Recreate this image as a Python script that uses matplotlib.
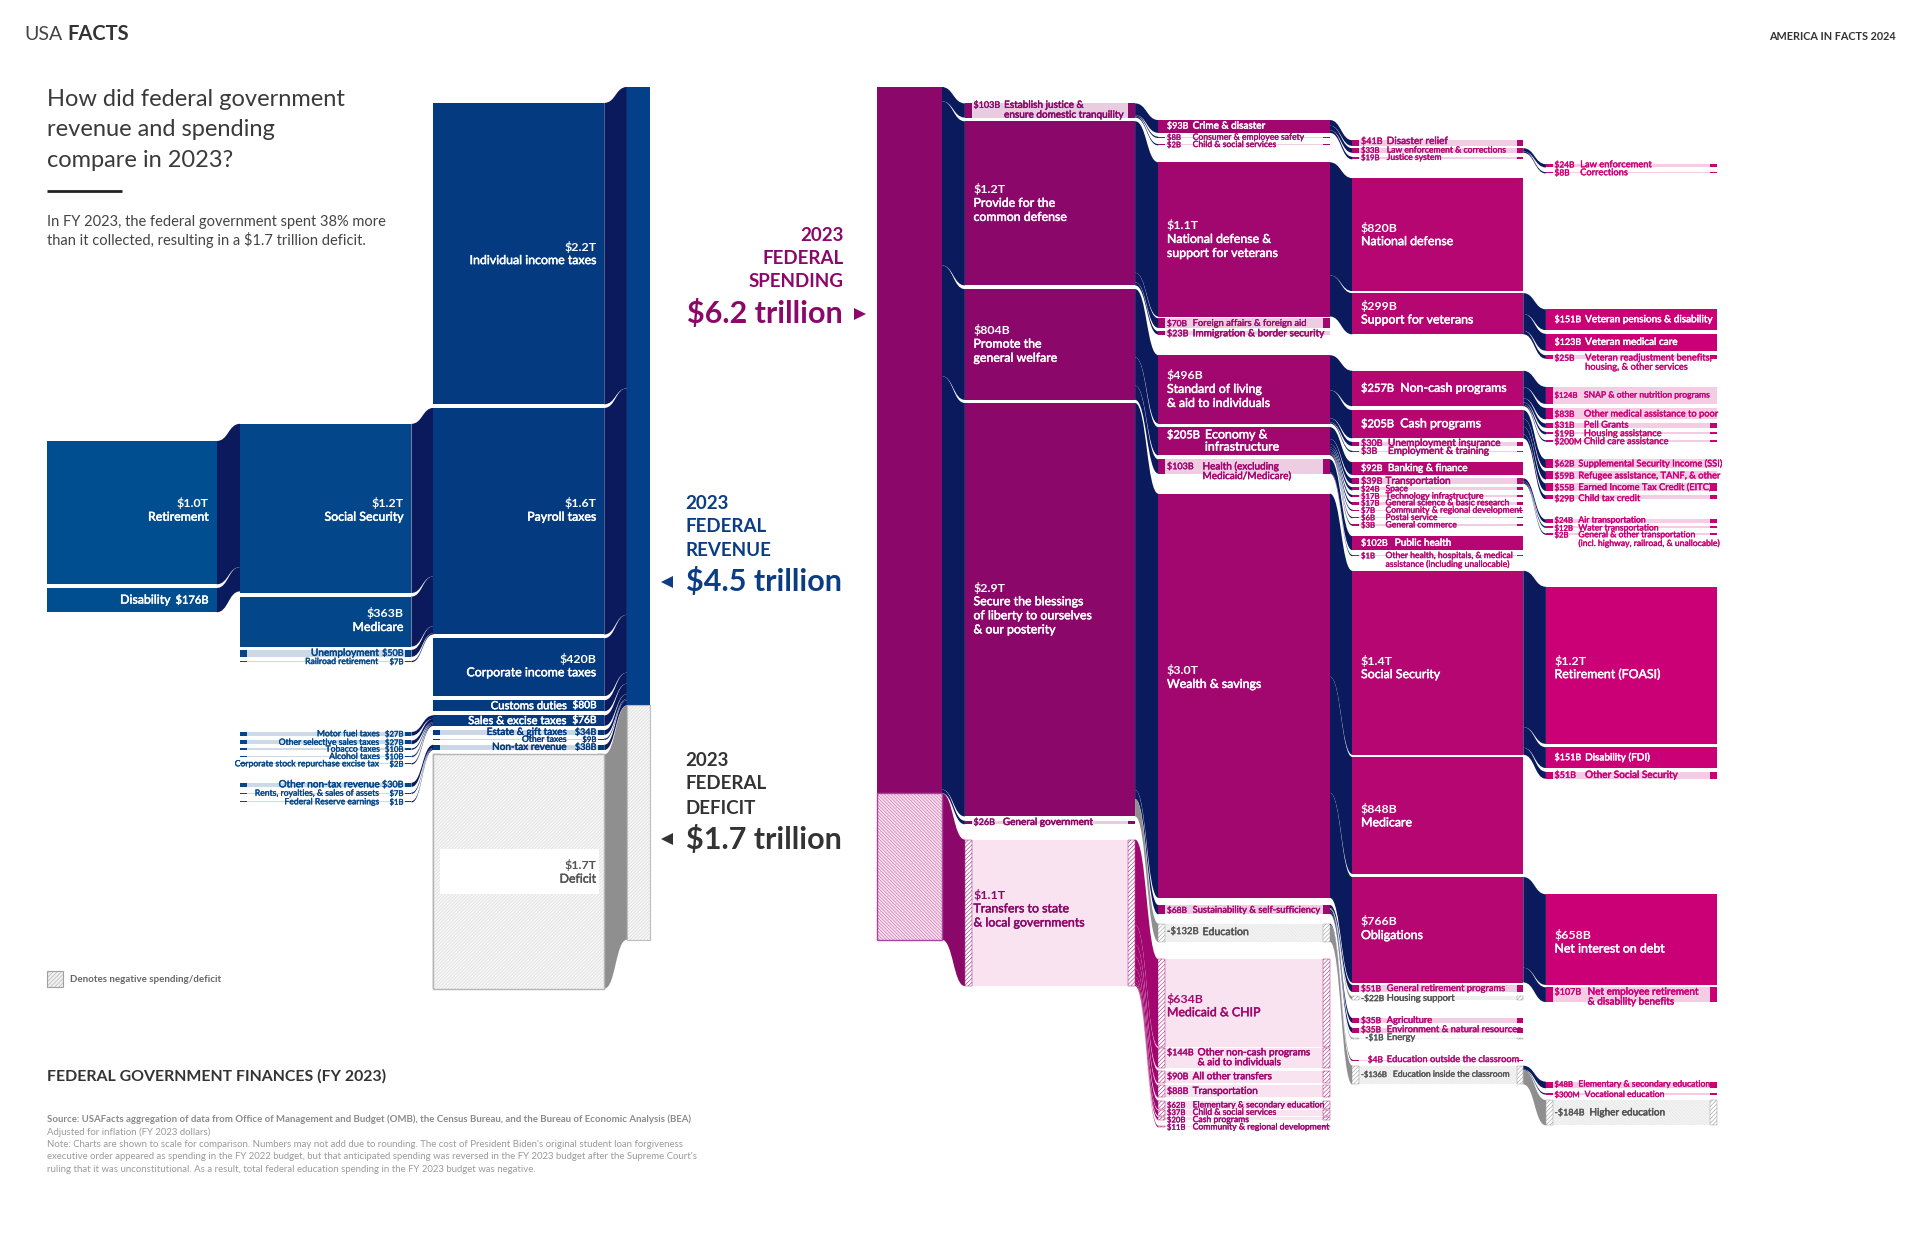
import matplotlib
matplotlib.use('Agg')
import matplotlib.pyplot as plt
from matplotlib.patches import Rectangle, PathPatch
from matplotlib.path import Path
import matplotlib.patheffects as pe

plt.rcParams['font.family'] = ['Lato', 'DejaVu Sans']
plt.rcParams['hatch.linewidth'] = 0.35

# ---- data: $ billions ------------------------------------------------------
rev0_names = ['Retirement', 'Disability']
rev0_labels = ['$1.0T', '$176B']
rev0_values = [1040, 176]

rev1_names = ['Social Security', 'Medicare', 'Unemployment', 'Railroad retirement',
              'Motor fuel taxes', 'Other selective sales taxes', 'Tobacco taxes', 'Alcohol taxes',
              'Corporate stock repurchase excise tax',
              'Other non-tax revenue', 'Rents, royalties, & sales of assets', 'Federal Reserve earnings']
rev1_labels = ['$1.2T', '$363B', '$50B', '$7B', '$27B', '$27B', '$10B', '$10B', '$2B', '$30B', '$7B', '$1B']
rev1_values = [1227, 363, 50, 7, 27, 27, 10, 10, 2, 30, 7, 1]

rev2_names = ['Individual income taxes', 'Payroll taxes', 'Corporate income taxes', 'Customs duties',
              'Sales & excise taxes', 'Estate & gift taxes', 'Other taxes', 'Non-tax revenue', 'Deficit']
rev2_labels = ['$2.2T', '$1.6T', '$420B', '$80B', '$76B', '$34B', '$9B', '$38B', '$1.7T']
rev2_values = [2187, 1644, 420, 80, 76, 34, 9, 38, 1700]

total_revenue = 4488
total_deficit = 1700
total_spending = 5124
total_negative = 1063

sp1_names = ['Establish justice &\nensure domestic tranquility', 'Provide for the\ncommon defense',
             'Promote the\ngeneral welfare',
             'Secure the blessings\nof liberty to ourselves\n& our posterity',
             'General government', 'Transfers to state\n& local governments']
sp1_labels = ['$103B', '$1.2T', '$804B', '$2.9T', '$26B', '$1.1T']
sp1_values = [103, 1191, 804, 3000, 26, 1063]

sp2_names = ['Crime & disaster', 'Consumer & employee safety', 'Child & social services',
             'National defense &\nsupport for veterans', 'Foreign affairs & foreign aid',
             'Immigration & border security', 'Standard of living\n& aid to individuals',
             'Economy &\ninfrastructure', 'Health (excluding\nMedicaid/Medicare)', 'Wealth & savings',
             'Sustainability & self-sufficiency', 'Education', 'Medicaid & CHIP',
             'Other non-cash programs\n& aid to individuals', 'All other transfers', 'Transportation',
             'Elementary & secondary education', 'Child & social services', 'Cash programs',
             'Community & regional development']
sp2_labels = ['$93B', '$8B', '$2B', '$1.1T', '$70B', '$23B', '$496B', '$205B', '$103B', '$3.0T',
              '$68B', '-$132B', '$634B', '$144B', '$90B', '$88B', '$62B', '$37B', '$20B', '$11B']
sp2_values = [93, 8, 2, 1119, 70, 23, 496, 205, 103, 2933, 68, -132, 634, 144, 90, 88, 62, 37, 20, 11]

sp3_names = ['Disaster relief', 'Law enforcement & corrections', 'Justice system', 'National defense',
             'Support for veterans', 'Non-cash programs', 'Cash programs', 'Unemployment insurance',
             'Employment & training', 'Banking & finance', 'Transportation', 'Space',
             'Technology infrastructure', 'General science & basic research',
             'Community & regional development', 'Postal service', 'General commerce', 'Public health',
             'Other health, hospitals, & medical\nassistance (including unallocable)', 'Social Security',
             'Medicare', 'Obligations', 'General retirement programs', 'Housing support', 'Agriculture',
             'Environment & natural resources', 'Energy', 'Education outside the classroom',
             'Education inside the classroom']
sp3_labels = ['$41B', '$33B', '$19B', '$820B', '$299B', '$257B', '$205B', '$30B', '$3B', '$92B', '$39B',
              '$24B', '$17B', '$17B', '$7B', '$6B', '$3B', '$102B', '$1B', '$1.4T', '$848B', '$766B',
              '$51B', '-$22B', '$35B', '$35B', '-$1B', '$4B', '-$136B']
sp3_values = [41, 33, 19, 820, 299, 257, 205, 30, 3, 92, 39, 24, 17, 17, 7, 6, 3, 102, 1, 1335, 848, 766,
              51, -22, 35, 35, -1, 4, -136]

sp4_names = ['Law enforcement', 'Corrections', 'Veteran pensions & disability', 'Veteran medical care',
             'Veteran readjustment benefits,\nhousing, & other services', 'SNAP & other nutrition programs',
             'Other medical assistance to poor', 'Pell Grants', 'Housing assistance', 'Child care assistance',
             'Supplemental Security Income (SSI)', 'Refugee assistance, TANF, & other',
             'Earned Income Tax Credit (EITC)', 'Child tax credit', 'Air transportation', 'Water transportation',
             'General & other transportation\n(incl. highway, railroad, & unallocable)',
             'Retirement (FOASI)', 'Disability (FDI)', 'Other Social Security', 'Net interest on debt',
             'Net employee retirement\n& disability benefits', 'Elementary & secondary education',
             'Vocational education', 'Higher education']
sp4_labels = ['$24B', '$8B', '$151B', '$123B', '$25B', '$124B', '$83B', '$31B', '$19B', '$200M', '$62B', '$59B',
              '$55B', '$29B', '$24B', '$12B', '$2B', '$1.2T', '$151B', '$51B', '$658B', '$107B', '$48B',
              '$300M', '-$184B']
sp4_values = [24, 8, 151, 123, 25, 124, 83, 31, 19, 0.2, 62, 59, 55, 29, 24, 12, 2, 1140, 151, 51, 658, 107, 48,
              0.3, -184]

# ---- layout (node tops, kinds, label styles), not data -----------------------
SCALE = 0.1125
NAVY = '#0A1A5C'
GRAY = '#8F8F8F'
SIZES = {'l': 8.9, 'n': 8.1, 'm': 7.6, 's': 7.2, 'y': 6.7, 'x': 6.2}
HATCH_A = '/' * 10
HATCH_B = '\\' * 10

rev0_tops = [360, 480]
rev0_kinds = 'ss'
rev0_dx = [0, 31]
rev0_sizes = 'll'

rev1_tops = [346, 487, 530.5, 539.5, 597.5, 604.5, 611, 617, 623, 639, 647, 654]
rev1_kinds = 'ssllllllllll'
rev1_dx = [0, 0, 20, 20, 19, 19, 19, 19, 19, 19, 19, 19]
rev1_sizes = 'llsxxxxxxsxx'

rev2_tops = [84, 333, 521, 571.6, 584, 596, 603, 608, 615.8]
rev2_kinds = 'ssssslll'
rev2_dx = [0, 0, 0, 24, 24, 24, 24, 24, 0]
rev2_sizes = 'lllnnsxsl'

sp1_tops = [84.4, 99, 236, 329, 670, 685.4]
sp1_kinds = 'lssslh'
sp1_dx = [25, 0, 0, 0, 24, 0]
sp1_sizes = 'slllsl'
sp1_ly = [90, None, 281, 497, None, 742]

sp2_tops = [98, 111.6, 117.6, 132.5, 259.8, 270.5, 290, 348.7, 375, 403, 738.8, 754, 783, 855.5, 874, 886, 898.5,
            906.5, 912, 919]
sp2_kinds = 'sllslLsslslnhhhhhhhh'
sp2_dx = [21, 21, 21, 0, 21, 21, 0, 31, 29, 0, 21, 29, 0, 25, 21, 21, 21, 21, 21, 21]
sp2_sizes = 'sxxlysllslymlsssxxxx'
sp2_ly = [103, 112, 118, None, 264, 272.5, None, 360, 385, 553, 743, 760.5, 821, 863.5, 879, 891, 902, 908, 914, 920]

sp3_tops = [114.5, 121, 128, 145.4, 239.3, 302.7, 334.8, 360.7, 368, 377.3, 390.5, 397.7, 404, 410, 416, 422, 428,
            437.7, 453, 466, 618, 716, 804, 813.5, 831, 839, 847, 865, 870]
sp3_kinds = 'lllssssllslllllllslsssl' + 'nllnln'
sp3_dx = [21, 21, 21, 0, 0, 32, 32, 22, 22, 22, 20, 20, 20, 20, 20, 20, 20, 27.5, 20, 0, 0, 0, 21, 21, 21, 21, 21, 21,
          26]
sp3_sizes = 'sxxllll' + 'ssss' + 'xxxxxx' + 'sx' + 'lll' + 'yyyyyy' + 'x'
sp3_ly = [115.5, 122.5, 128.5, None, 255.5, 317, 346, 362, 368.5, 382.5, 393, 399, 405, 410.5, 416.5, 422.5, 428.5,
          443.5, 457, 545, 666, 758, 807, 815, 833, 840.5, 847, 865, 877]
sp3_shift = {26: 3.5, 27: 5.5}

sp4_tops = [134, 140.5, 252.5, 272.5, 290, 315.8, 333, 345.7, 352.5, 359.4, 375, 384.8, 394.6, 404.3, 424, 429.6, 435.5,
            479, 610, 630, 730, 806, 883, 892.5, 898]
sp4_kinds = 'llssl' + 'LLlll' + 'LLlll' + 'll' + 'ssl' + 'sl' + 'lln'
sp4_dx = [21, 21, 25, 25, 25, 24, 24, 24, 24, 24, 19.5, 19.5, 19.5, 19.5, 19.5, 19.5, 19.5, 0, 25, 25, 0, 27, 19.5, 24.6, 28.5]
sp4_sizes = 'yy' + 'ssy' + 'xyyyy' + 'yyyy' + 'xxx' + 'l' + 'ss' + 'l' + 's' + 'xx' + 's'
sp4_ly = [134.5, 141, 261, 279.5, 296, 322.5, 338, 347, 354, 360.5, 378.5, 388.5, 398, 407, 424.5, 431, 440, 545,
          618.5, 633, 769, 814, 885, 893.5, 908.5]


def mix(hex_color, t):
    # blend a colour toward white
    rgb = [int(hex_color[i:i + 2], 16) for i in (1, 3, 5)]
    return '#%02X%02X%02X' % tuple(int(c + (255 - c) * t) for c in rgb)


fig = plt.figure(figsize=(19.2, 12.47), dpi=100, facecolor='white')
ax = fig.add_axes([0, 0, 1, 1])
ax.set_xlim(0, 1568)
ax.set_ylim(1018, 0)
ax.axis('off')


def ribbon(x0, y0, h0, x1, y1, h1, color):
    d = (x1 - x0) * 0.5
    verts = [(x0, y0), (x0 + d, y0), (x1 - d, y1), (x1, y1), (x1, y1 + h1),
             (x1 - d, y1 + h1), (x0 + d, y0 + h0), (x0, y0 + h0), (x0, y0)]
    codes = [Path.MOVETO, Path.CURVE4, Path.CURVE4, Path.CURVE4, Path.LINETO,
             Path.CURVE4, Path.CURVE4, Path.CURVE4, Path.CLOSEPOLY]
    ax.add_patch(PathPatch(Path(verts, codes), fc=color, ec='none', lw=0, zorder=1))


def flow(parent, kids, kids_left=False, color=None):
    # kids are stacked inside the parent edge, squeezed when min heights overflow it
    total = sum(k['h'] for k in kids)
    squeeze = min(1.0, parent['h'] / total)
    y = parent['top']
    for k in kids:
        h0 = k['h'] * squeeze
        c = color or (GRAY if k['value'] < 0 else NAVY)
        if kids_left:
            ribbon(k['x1'], k['top'], k['h'], parent['x0'], y, h0, c)
        else:
            ribbon(parent['x1'], y, h0, k['x0'], k['top'], k['h'], c)
        y += h0


def draw_node(n, color, cap=5.5):
    x0, x1, top, h, kind = n['x0'], n['x1'], n['top'], n['h'], n['kind']
    w = x1 - x0
    if kind == 's':
        ax.add_patch(Rectangle((x0, top), w, h, fc=color, ec='none', zorder=3))
    elif kind in 'lL':
        ax.add_patch(Rectangle((x0, top), w, h, fc=mix(color, 0.8), ec='none', zorder=3))
        ax.add_patch(Rectangle((x0, top), cap, h, fc=color, ec='none', zorder=3))
        if kind == 'l':
            ax.add_patch(Rectangle((x1 - cap, top), cap, h, fc=color, ec='none', zorder=3))
    else:
        light, line, edge = ('#F3F3F3', '#E2E2E2', GRAY) if kind == 'n' else ('#FAE6F2', '#F6DAEA', color)
        ax.add_patch(Rectangle((x0, top), w, h, fc=light, ec=line, hatch=HATCH_B, lw=0, zorder=3))
        for cx in (x0, x1 - cap):
            ax.add_patch(Rectangle((cx, top), cap, h, fc='white', ec=edge, hatch='////////', lw=0.3, zorder=3))


def put(x, y, s, tc, size, ha, heavy=False):
    t = ax.text(x, y, s, color=tc, fontsize=size, ha=ha, va='center', fontweight='bold' if heavy else 'normal', zorder=5)
    if not heavy:
        t.set_path_effects([pe.withStroke(linewidth=0.35 if size > 7 else 0.25, foreground=tc)])
    return t


def draw_label(n, x, right=False, shift=0):
    size = SIZES[n['size']]
    tc = n['tc']
    lines = n['name'].split('\n')
    ly = n['ly'] if n['ly'] is not None else n['top'] + n['h'] / 2
    ha = 'right' if right else 'left'
    if n['dx'] == 0:
        pitch = size * 1.29
        lines = [n['label']] + lines
        for i, line in enumerate(lines):
            put(x, ly + (i - (len(lines) - 1) / 2) * pitch, line, tc, size, ha, heavy=(i == 0))
    else:
        pitch = size * 1.12
        for i, line in enumerate(lines):
            y = ly + (i - (len(lines) - 1) / 2) * pitch
            nx = x - n['dx'] if right else x + n['dx']
            put(nx, y, line, tc, size, ha)
            if i == 0:
                # inline amounts: regular cut, slightly smaller so they clear the name
                put(x if right else x + shift, y, n['label'], tc, size * 0.9, ha)


def column(x0, x1, names, labels, values, tops, kinds, dx, sizes, color, ly=None):
    nodes = []
    for i, name in enumerate(names):
        n = dict(x0=x0, x1=x1, top=tops[i], h=max(abs(values[i]) * SCALE, 1.1), value=values[i], kind=kinds[i],
                 name=name, label=labels[i], dx=dx[i], size=sizes[i], ly=ly[i] if ly else None)
        n['tc'] = 'white' if n['kind'] == 's' else ('#555555' if n['kind'] == 'n' else color)
        nodes.append(n)
    return nodes


blue0, blue1, blue2, blue3 = '#004E8F', '#03478A', '#033A80', '#034089'
pur1, pur2, pur3, pur4 = '#8C076A', '#A1076F', '#B50672', '#CB0076'

rev0 = column(38, 177, rev0_names, rev0_labels, rev0_values, rev0_tops, rev0_kinds, rev0_dx, rev0_sizes, blue0)
rev1 = column(196, 336, rev1_names, rev1_labels, rev1_values, rev1_tops, rev1_kinds, rev1_dx, rev1_sizes, blue1)
rev2 = column(354, 493.5, rev2_names, rev2_labels, rev2_values, rev2_tops, rev2_kinds + 'n', rev2_dx, rev2_sizes, blue2)
rev_total = dict(x0=512, x1=531, top=71, h=total_revenue * SCALE, value=total_revenue, kind='s')
def_total = dict(x0=512, x1=531, top=71 + total_revenue * SCALE, h=total_deficit * SCALE, value=-total_deficit, kind='n')

sp_total = dict(x0=716, x1=769, top=71, h=total_spending * SCALE, value=total_spending, kind='s')
neg_total = dict(x0=716, x1=769, top=71 + total_spending * SCALE, h=total_negative * SCALE, value=total_negative, kind='h')
sp1 = column(788, 927, sp1_names, sp1_labels, sp1_values, sp1_tops, sp1_kinds, sp1_dx, sp1_sizes, pur1, sp1_ly)
sp2 = column(946, 1086, sp2_names, sp2_labels, sp2_values, sp2_tops, sp2_kinds, sp2_dx, sp2_sizes, pur2, sp2_ly)
sp3 = column(1104.5, 1244, sp3_names, sp3_labels, sp3_values, sp3_tops, sp3_kinds, sp3_dx, sp3_sizes, pur3, sp3_ly)
sp4 = column(1262.5, 1402, sp4_names, sp4_labels, sp4_values, sp4_tops, sp4_kinds, sp4_dx, sp4_sizes, pur4, sp4_ly)

# ribbons
flow(rev1[0], rev0, kids_left=True)
flow(rev2[1], rev1[:4], kids_left=True)
flow(rev2[4], rev1[4:9], kids_left=True)
flow(rev2[7], rev1[9:12], kids_left=True)
flow(rev_total, rev2[:8], kids_left=True)
flow(def_total, rev2[8:], kids_left=True, color=GRAY)

flow(sp_total, sp1[:5])
flow(neg_total, sp1[5:], color=pur1)
flow(sp1[0], sp2[:3])
flow(sp1[1], sp2[3:6])
flow(sp1[2], sp2[6:9])
flow(sp1[3], sp2[9:12])
flow(sp1[5], sp2[12:], color=pur2)
flow(sp2[0], sp3[:3])
flow(sp2[3], sp3[3:5])
flow(sp2[6], sp3[5:9])
flow(sp2[7], sp3[9:17])
flow(sp2[8], sp3[17:19])
flow(sp2[9], sp3[19:22])
flow(sp2[10], sp3[22:27])
flow(sp2[11], sp3[27:])
flow(sp3[1], sp4[:2])
flow(sp3[4], sp4[2:5])
flow(sp3[5], sp4[5:10])
flow(sp3[6], sp4[10:14])
flow(sp3[10], sp4[14:17])
flow(sp3[19], sp4[17:20])
flow(sp3[21], sp4[20:22])
flow(sp3[28], sp4[22:])

# nodes and labels
for nodes, color in ((rev0, blue0), (rev1, blue1), (rev2, blue2), (sp1, pur1), (sp2, pur2), (sp3, pur3), (sp4, pur4)):
    for n in nodes:
        draw_node(n, color)

draw_node(rev_total, blue3)
ax.add_patch(Rectangle((512, def_total['top']), 19, def_total['h'], fc='#F6F6F6', ec='#D2D2D2', hatch=HATCH_A, lw=0, zorder=3))
ax.add_patch(Rectangle((512, def_total['top']), 19, def_total['h'], fc='none', ec='#BDBDBD', lw=0.8, zorder=3))
draw_node(sp_total, pur1)
ax.add_patch(Rectangle((716, neg_total['top']), 53, neg_total['h'], fc='#F6E0EF', ec='#C4549E', hatch=HATCH_B, lw=0, zorder=3))
ax.add_patch(Rectangle((716, neg_total['top']), 53, neg_total['h'], fc='none', ec='#A8469A', lw=1, zorder=3))

deficit = rev2[8]
ax.add_patch(Rectangle((354, deficit['top']), 139.5, deficit['h'], fc='#F6F6F6', ec='#D6D6D6', hatch=HATCH_A, lw=0, zorder=3))
ax.add_patch(Rectangle((354, deficit['top']), 139.5, deficit['h'], fc='none', ec='#B5B5B5', lw=1, zorder=3))
ax.add_patch(Rectangle((359, 693), 130, 37, fc='white', ec='none', zorder=4))
deficit['ly'] = 712
deficit['tc'] = '#555555'
deficit['dx'] = 0

rev_ly = {id(rev0[0]): 416.5, id(rev1[0]): 416.5, id(rev1[1]): 506.5, id(rev2[0]): 207, id(rev2[1]): 416.5, id(rev2[2]): 543.5}
for nodes in (rev0, rev1, rev2):
    for n in nodes:
        n['ly'] = rev_ly.get(id(n), n['ly'])
        draw_label(n, n['x1'] - 6.5, right=True)
for nodes in (sp1, sp2, sp3, sp4):
    for i, n in enumerate(nodes):
        draw_label(n, n['x0'] + 7, shift=sp3_shift.get(i, 0) if nodes is sp3 else 0)

# titles and callouts
ax.text(20, 28, 'USA', fontsize=14, color='#444444', va='center')
ax.text(55, 28, 'FACTS', fontsize=14.5, color='#333333', va='center', fontweight='bold')
ax.text(1548, 30, 'AMERICA IN FACTS 2024', fontsize=7.8, color='#333333', va='center', ha='right', fontweight='bold')

for i, line in enumerate(['How did federal government', 'revenue and spending', 'compare in 2023?']):
    ax.text(38, 81 + i * 25, line, fontsize=17, color='#3A3A3A', va='center')
ax.plot([38, 100], [156, 156], color='#222222', lw=2, solid_capstyle='butt')
ax.text(38, 181, 'In FY 2023, the federal government spent 38% more', fontsize=10.5, color='#444444', va='center')
ax.text(38, 196, 'than it collected, resulting in a $1.7 trillion deficit.', fontsize=10.5, color='#444444', va='center')

callout_pink = '#8C076A'
for y, line in zip((192, 211, 230), ('2023', 'FEDERAL', 'SPENDING')):
    ax.text(689, y, line, fontsize=13.5, color=callout_pink, fontweight='bold', ha='right', va='center')
ax.text(688, 256, '$6.2 trillion', fontsize=22, color=callout_pink, fontweight='bold', ha='right', va='center')
ax.plot([702], [256], marker='>', ms=8.5, color=callout_pink, mew=0)

callout_blue = '#0B3C84'
for y, line in zip((411, 430, 449), ('2023', 'FEDERAL', 'REVENUE')):
    ax.text(560, y, line, fontsize=13.5, color=callout_blue, fontweight='bold', va='center')
ax.text(560, 475, '$4.5 trillion', fontsize=22, color=callout_blue, fontweight='bold', va='center')
ax.plot([545], [475], marker='<', ms=8.5, color=callout_blue, mew=0)

callout_gray = '#333333'
for y, line in zip((621, 640, 660), ('2023', 'FEDERAL', 'DEFICIT')):
    ax.text(560, y, line, fontsize=13.5, color=callout_gray, fontweight='bold', va='center')
ax.text(560, 685, '$1.7 trillion', fontsize=22, color=callout_gray, fontweight='bold', va='center')
ax.plot([545], [685], marker='<', ms=8.5, color=callout_gray, mew=0)

ax.add_patch(Rectangle((38, 793), 13.5, 13, fc='#F0F0F0', ec='#A0A0A0', hatch='////////', lw=0.8))
ax.text(57, 799.5, 'Denotes negative spending/deficit', fontsize=7, color='#666666', fontweight='bold', va='center')

ax.text(38, 879, 'FEDERAL GOVERNMENT FINANCES (FY 2023)', fontsize=11.4, color='#333333', fontweight='bold', va='center')
ax.text(38, 914, 'Source: USAFacts aggregation of data from Office of Management and Budget (OMB), the Census Bureau, '
                 'and the Bureau of Economic Analysis (BEA)', fontsize=6.95, color='#8A8A8A', fontweight='bold', va='center')
notes = ['Adjusted for inflation (FY 2023 dollars)',
         'Note: Charts are shown to scale for comparison. Numbers may not add due to rounding. The cost of President '
         "Biden's original student loan forgiveness",
         'executive order appeared as spending in the FY 2022 budget, but that anticipated spending was reversed in '
         "the FY 2023 budget after the Supreme Court's",
         'ruling that it was unconstitutional. As a result, total federal education spending in the FY 2023 budget was negative.']
for i, line in enumerate(notes):
    ax.text(38, 924.5 + i * 10, line, fontsize=6.95, color='#9A9A9A', va='center')

fig.savefig('out.png', dpi=100, facecolor='white')
